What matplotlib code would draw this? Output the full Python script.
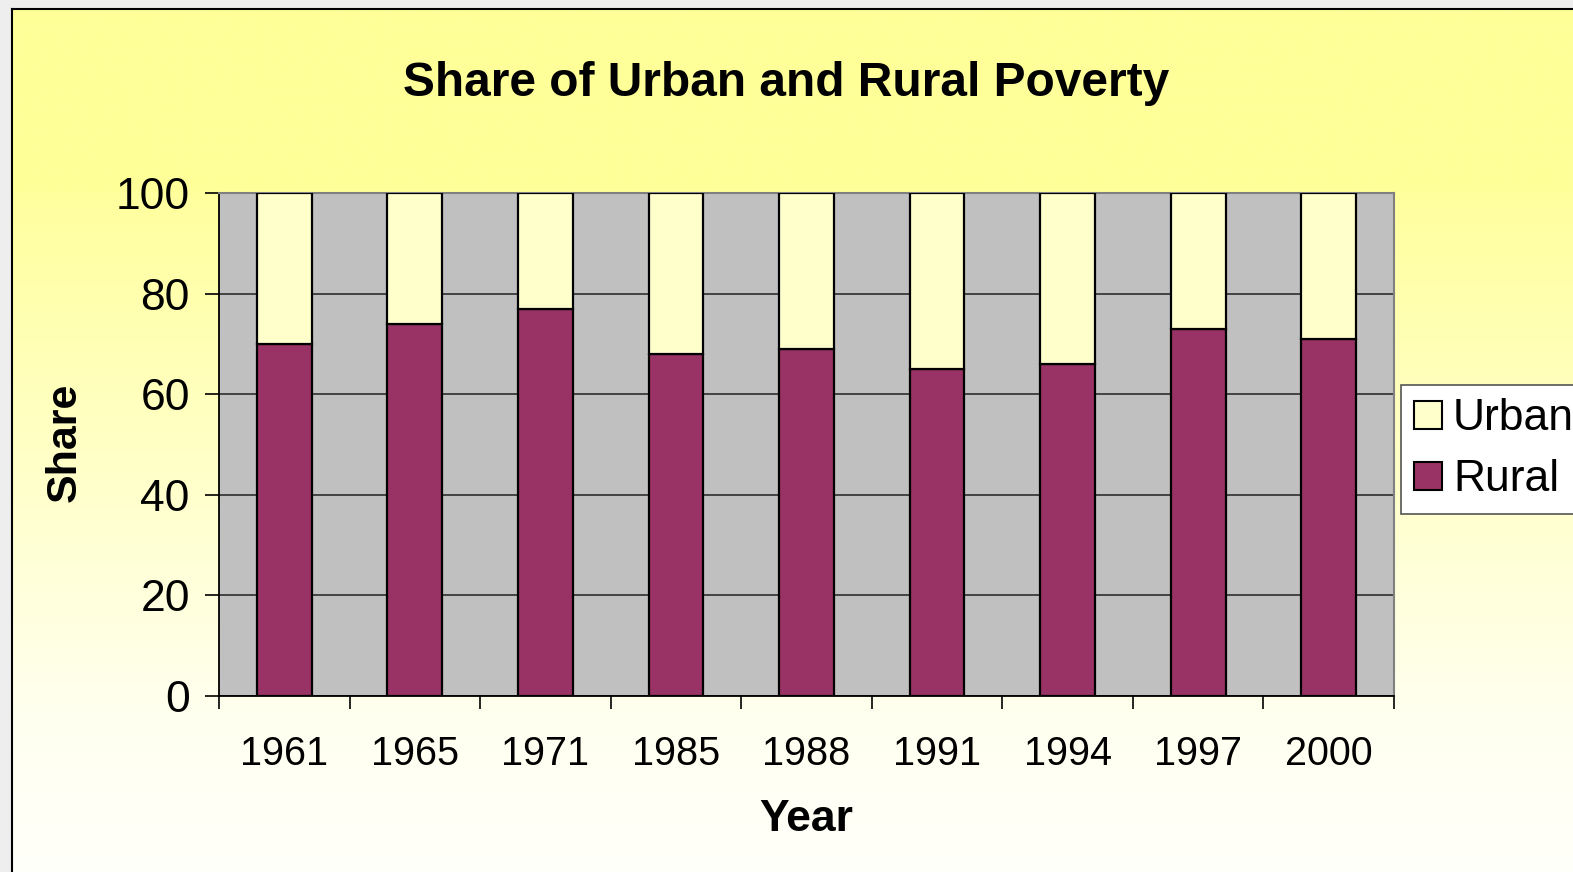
import numpy as np
import matplotlib
matplotlib.use("Agg")
import matplotlib.pyplot as plt
from matplotlib.patches import Patch

# ---- data ----
years = ["1961", "1965", "1971", "1985", "1988", "1991", "1994", "1997", "2000"]
rural = [70, 74, 77, 68, 69, 65, 66, 73, 71]
urban = [100 - r for r in rural]
yticks = [0, 20, 40, 60, 80, 100]

title = "Share of Urban and Rural Poverty"
xlabel = "Year"
ylabel = "Share"

RURAL_C = "#993366"
URBAN_C = "#FFFFCC"
PLOT_BG = "#C0C0C0"

plt.rcParams["font.family"] = ["Liberation Sans", "DejaVu Sans"]

W, H = 1573, 872
fig = plt.figure(figsize=(W / 100, H / 100), dpi=100)
fig.patch.set_facecolor("#EEEEEE")

# ---- gradient background of the chart area ----
x0, ytop = 12, 9
bg = fig.add_axes([x0 / W, 0, 1 - x0 / W, 1 - ytop / H], zorder=-5)
ypix = np.arange(ytop, H)
blue = np.where(ypix < 193, 153.0,
                np.where(ypix < 720, 158 + (ypix - 193) / (720 - 193) * (240 - 158),
                         240 + (ypix - 720) / (H - 720) * (250 - 240)))
grad = np.zeros((len(ypix), 2, 3))
grad[..., 0] = 1.0
grad[..., 1] = 1.0
grad[..., 2] = (blue / 255.0)[:, None]
bg.imshow(grad, aspect="auto", extent=[0, 1, 0, 1], interpolation="bilinear")
bg.set_xlim(0, 1)
bg.set_ylim(0, 1)
bg.set_xticks([])
bg.set_yticks([])
for s in ["right", "bottom"]:
    bg.spines[s].set_visible(False)
for s in ["left", "top"]:
    bg.spines[s].set_color("black")
    bg.spines[s].set_linewidth(1.5)

# ---- main plot ----
left, right = 219, 1394
top, bottom = 193, 696
ax = fig.add_axes([left / W, 1 - bottom / H, (right - left) / W, (bottom - top) / H])
ax.set_facecolor(PLOT_BG)

x = np.arange(len(years))
bw = 0.42
ax.bar(x, rural, bw, color=RURAL_C, edgecolor="black", linewidth=1.6, zorder=3, label="Rural")
ax.bar(x, urban, bw, bottom=rural, color=URBAN_C, edgecolor="black", linewidth=1.6, zorder=3, label="Urban")

ax.set_xlim(-0.5, len(years) - 0.5)
ax.set_ylim(0, 100)

ax.set_yticks(yticks)
ax.set_yticklabels([str(v) for v in yticks], fontsize=32)
ax.tick_params(axis="y", direction="out", length=10, width=1.2, pad=11, colors="black")

ax.set_xticks(np.arange(-0.5, len(years), 1.0))
ax.set_xticklabels([])
ax.set_xticks(x, minor=True)
ax.set_xticklabels(years, minor=True, fontsize=28.5)
ax.tick_params(axis="x", which="major", direction="out", length=9, width=1.2)
ax.tick_params(axis="x", which="minor", length=0, pad=28)

ax.grid(axis="y", color="#222222", linewidth=1.1, zorder=1)
ax.set_axisbelow(True)

for s in ["top", "right"]:
    ax.spines[s].set_color("#808080")
    ax.spines[s].set_linewidth(1.5)
for s in ["left", "bottom"]:
    ax.spines[s].set_color("black")
    ax.spines[s].set_linewidth(1.3)

# ---- texts ----
fig.text(786 / W, 1 - 84 / H, title, ha="center", va="center", fontsize=34.5, fontweight="bold")
fig.text(806 / W, 1 - 819 / H, xlabel, ha="center", va="center", fontsize=32, fontweight="bold")
fig.text(65 / W, 1 - 442 / H, ylabel, ha="center", va="center", rotation=90, fontsize=31, fontweight="bold")

# ---- legend ----
handles = [Patch(facecolor=URBAN_C, edgecolor="black", linewidth=1.5),
           Patch(facecolor=RURAL_C, edgecolor="black", linewidth=1.5)]
leg = fig.legend(handles, ["Urban", "Rural"], loc="upper left",
                 bbox_to_anchor=(1401 / W, 1 - 385 / H), borderaxespad=0,
                 fontsize=32, frameon=True, fancybox=False, shadow=False,
                 handlelength=0.62, handleheight=0.6, handletextpad=0.25,
                 borderpad=0.3, labelspacing=0.45)
leg.get_frame().set_edgecolor("#555555")
leg.get_frame().set_linewidth(1.2)
leg.get_frame().set_facecolor("white")
leg.get_frame().set_alpha(1)

fig.savefig("out.png", dpi=100)
